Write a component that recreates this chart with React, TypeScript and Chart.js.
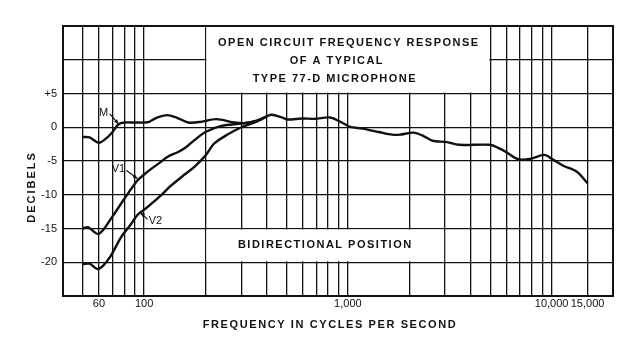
import React, { useEffect, useRef } from "react";
import { Chart, registerables } from "chart.js";

Chart.register(...registerables);

// ---- data (frequency in Hz, response in dB) ----
const mFreq = [50, 54, 60, 66, 70, 75, 80, 90, 100, 106, 115, 130, 145, 165, 190, 226, 278, 311, 360, 421, 470, 506, 594, 690, 818, 934, 1026, 1174, 1416, 1650, 1800, 2100, 2350, 2600, 3070, 3500, 5000, 5500, 6000, 6800, 7800, 9200, 10150, 11400, 13300, 15000];
const mDb = [-1.45, -1.5, -2.3, -1.5, -0.7, 0.45, 0.7, 0.7, 0.7, 0.8, 1.4, 1.8, 1.4, 0.7, 0.8, 1.2, 0.7, 0.6, 1.0, 1.85, 1.5, 1.15, 1.3, 1.25, 1.45, 0.7, 0.05, -0.2, -0.7, -1.1, -1.1, -0.8, -1.3, -2.0, -2.2, -2.6, -2.6, -3.1, -3.7, -4.7, -4.7, -4.1, -4.8, -5.7, -6.6, -8.3];

const v1Freq = [50, 53, 60, 70, 80, 92.7, 100, 108, 120, 130, 146, 160, 176, 200, 240, 300, 340, 380];
const v1Db = [-15.0, -14.8, -15.8, -13.2, -10.6, -7.9, -7.0, -6.2, -5.2, -4.4, -3.7, -3.0, -1.95, -0.7, 0.2, 0.55, 0.8, 1.2];

const v2Freq = [50, 54, 59, 63, 68.5, 76.7, 81, 86, 92.7, 100, 108, 121, 135, 158, 176, 200, 221, 258, 300, 336, 363, 400];
const v2Db = [-20.3, -20.2, -21.0, -20.5, -19.1, -16.4, -15.4, -14.4, -13.0, -12.2, -11.4, -10.1, -8.7, -7.0, -5.9, -4.2, -2.4, -1.05, 0.0, 0.55, 0.95, 1.6];

// ---- axes ----
const gridFreqs = [40, 50, 60, 70, 80, 90, 100, 200, 300, 400, 500, 600, 700, 800, 900, 1000, 2000, 3000, 4000, 5000, 6000, 7000, 8000, 9000, 10000, 15000, 20000];
const xTickValues = [60, 100, 1000, 10000, 15000];
const xTickTexts = ["60", "100", "1,000", "10,000", "15,000"];
const yTickValues = [5, 0, -5, -10, -15, -20];
const yTickTexts = ["+5", "0", "-5", "-10", "-15", "-20"];

// ---- text ----
const titleLines = ["OPEN CIRCUIT FREQUENCY RESPONSE", "OF A TYPICAL", "TYPE 77-D MICROPHONE"];
const boxLabel = "BIDIRECTIONAL POSITION";
const xTitle = "FREQUENCY IN CYCLES PER SECOND";
const yTitle = "DECIBELS";
const curveNames = ["M", "V1", "V2"];

const INK = "#111";
const FONT = "'Liberation Sans', Arial, sans-serif";

const decorPlugin = {
  id: "decor",
  beforeDatasetsDraw(chart: any) {
    const { ctx, chartArea, scales } = chart;
    const xs = scales.x;
    const ys = scales.y;
    ctx.save();
    // title box (200 Hz - 5000 Hz, +5 to +15 dB)
    const tx0 = xs.getPixelForValue(200);
    const tx1 = xs.getPixelForValue(5000);
    const ty0 = ys.getPixelForValue(15);
    const ty1 = ys.getPixelForValue(5);
    ctx.fillStyle = "#fff";
    ctx.fillRect(tx0 + 1, ty0 + 1, tx1 - tx0 - 2, ty1 - ty0 - 2);
    // bidirectional box (200 Hz - 3000 Hz, -15 to -20 dB)
    const bx0 = xs.getPixelForValue(200);
    const bx1 = xs.getPixelForValue(3000);
    const by0 = ys.getPixelForValue(-15);
    const by1 = ys.getPixelForValue(-20);
    ctx.fillRect(bx0 + 1, by0 + 1, bx1 - bx0 - 2, by1 - by0 - 2);

    // frame
    ctx.strokeStyle = INK;
    ctx.lineWidth = 2;
    ctx.strokeRect(chartArea.left, chartArea.top, chartArea.right - chartArea.left, chartArea.bottom - chartArea.top);

    // texts
    ctx.fillStyle = INK;
    ctx.textAlign = "center";
    ctx.textBaseline = "middle";
    ctx.font = `bold 11px ${FONT}`;
    (ctx as any).letterSpacing = "1.5px";
    const cx = (tx0 + tx1) / 2;
    const lineOff = [1, -11, -13];
    const lineY = [17, 35, 53];
    titleLines.forEach((t, i) => ctx.fillText(t, cx + lineOff[i], ty0 + lineY[i]));
    ctx.fillText(boxLabel, (bx0 + bx1) / 2 - 0, (by0 + by1) / 2);

    (ctx as any).letterSpacing = "1.6px";
    ctx.fillText(xTitle, 330, 325);
    ctx.save();
    ctx.translate(32, 187);
    ctx.rotate(-Math.PI / 2);
    (ctx as any).letterSpacing = "2px";
    ctx.fillText(yTitle, 0, 0);
    ctx.restore();

    // curve labels with leaders
    (ctx as any).letterSpacing = "0px";
    ctx.font = `11px ${FONT}`;
    const tips = [
      [xs.getPixelForValue(75), ys.getPixelForValue(0.5)],
      [xs.getPixelForValue(92.7), ys.getPixelForValue(-7.6)],
      [xs.getPixelForValue(96), ys.getPixelForValue(-12.6)],
    ];
    const textPos = [[-15, -11], [-19, -10], [15, 9]];
    const leadFrom = [[-9, -10], [-11, -8], [7, 7]];
    ctx.strokeStyle = INK;
    ctx.lineWidth = 1.2;
    tips.forEach(([px, py], i) => {
      ctx.fillText(curveNames[i], px + textPos[i][0], py + textPos[i][1]);
      const fx = px + leadFrom[i][0];
      const fy = py + leadFrom[i][1];
      ctx.beginPath();
      ctx.moveTo(fx, fy);
      ctx.lineTo(px, py);
      ctx.stroke();
      const ang = Math.atan2(py - fy, px - fx);
      ctx.beginPath();
      ctx.moveTo(px, py);
      ctx.lineTo(px - 5 * Math.cos(ang - 0.4), py - 5 * Math.sin(ang - 0.4));
      ctx.lineTo(px - 5 * Math.cos(ang + 0.4), py - 5 * Math.sin(ang + 0.4));
      ctx.closePath();
      ctx.fill();
    });
    ctx.restore();
  },
};

function makeData(f: number[], d: number[]) {
  return f.map((x, i) => ({ x, y: d[i] }));
}

export default function App() {
  const ref = useRef<HTMLCanvasElement | null>(null);
  useEffect(() => {
    if (!ref.current) return;
    const lineStyle = {
      borderColor: INK,
      borderWidth: 2.4,
      pointRadius: 0,
      fill: false,
      tension: 0.3,
    };
    const chart = new Chart(ref.current, {
      type: "line",
      data: {
        datasets: [
          { label: "M", data: makeData(mFreq, mDb), ...lineStyle },
          { label: "V1", data: makeData(v1Freq, v1Db), ...lineStyle },
          { label: "V2", data: makeData(v2Freq, v2Db), ...lineStyle },
        ],
      },
      options: {
        responsive: false,
        animation: false,
        events: [],
        layout: { padding: { top: 26, right: 27, left: 0, bottom: 0 } },
        plugins: { legend: { display: false }, tooltip: { enabled: false }, title: { display: false } },
        scales: {
          x: {
            type: "logarithmic",
            min: 40,
            max: 20000,
            afterBuildTicks: (s: any) => {
              s.ticks = gridFreqs.map((v) => ({ value: v }));
            },
            afterFit: (s: any) => {
              s.height = 60;
            },
            grid: { color: INK, lineWidth: 1.3, drawTicks: false },
            border: { display: false },
            ticks: {
              autoSkip: false,
              maxRotation: 0,
              padding: 1,
              color: INK,
              font: { family: FONT, size: 11 },
              callback: (v: any) => {
                const i = xTickValues.indexOf(Number(v));
                return i >= 0 ? xTickTexts[i] : "";
              },
            },
          },
          y: {
            type: "linear",
            min: -25,
            max: 15,
            afterFit: (s: any) => {
              s.width = 63;
            },
            grid: { color: INK, lineWidth: 1.3, drawTicks: false },
            border: { display: false },
            ticks: {
              stepSize: 5,
              padding: 6,
              color: INK,
              font: { family: FONT, size: 11 },
              callback: (v: any) => {
                const i = yTickValues.indexOf(Number(v));
                return i >= 0 ? yTickTexts[i] : "";
              },
            },
          },
        },
      },
      plugins: [decorPlugin],
    });
    return () => chart.destroy();
  }, []);
  return (
    <div style={{ position: "fixed", left: 0, top: 0, width: 640, height: 356, background: "#fff" }}>
      <canvas ref={ref} width={640} height={356} />
    </div>
  );
}
